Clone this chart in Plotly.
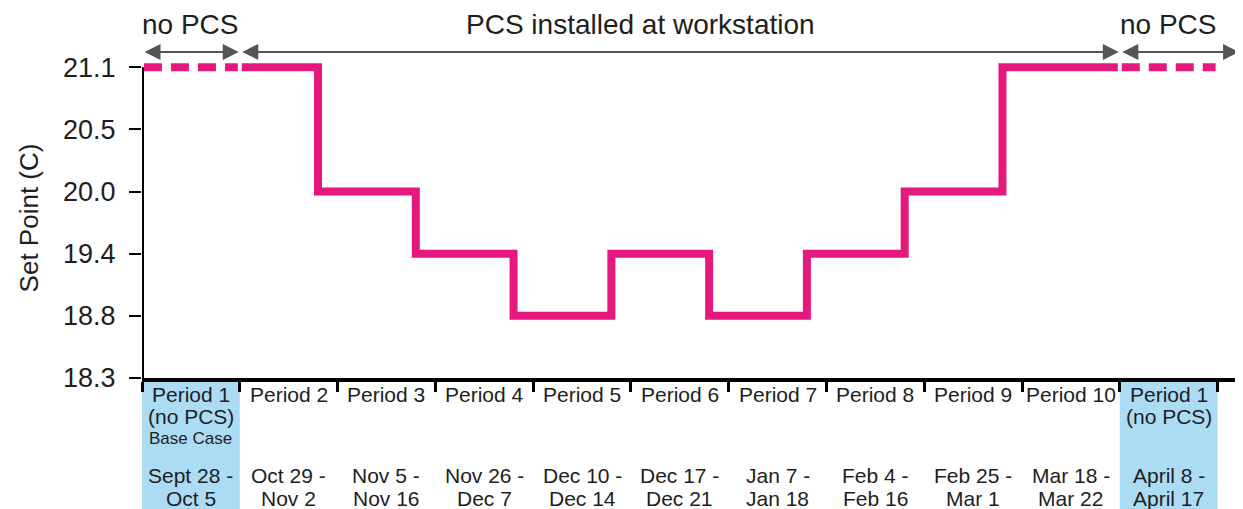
import plotly.graph_objects as go

# set point levels shown on the y axis (evenly spaced categories)
Y_LEVELS = ["18.3", "18.8", "19.4", "20.0", "20.5", "21.1"]

PERIODS = ["Period 1", "Period 2", "Period 3", "Period 4", "Period 5", "Period 6",
           "Period 7", "Period 8", "Period 9", "Period 10", "Period 1"]
NOTES = ["(no PCS)", "", "", "", "", "", "", "", "", "", "(no PCS)"]
EXTRA = ["Base Case", "", "", "", "", "", "", "", "", "", ""]
DATE_START = ["Sept 28 -", "Oct 29 -", "Nov 5 -", "Nov 26 -", "Dec 10 -", "Dec 17 -",
              "Jan 7 -", "Feb 4 -", "Feb 25 -", "Mar 18 -", "April 8 -"]
DATE_END = ["Oct 5", "Nov 2", "Nov 16", "Dec 7", "Dec 14", "Dec 21",
            "Jan 18", "Feb 16", "Mar 1", "Mar 22", "April 17"]
SET_POINT = [21.1, 21.1, 20.0, 19.4, 18.8, 19.4, 18.8, 19.4, 20.0, 21.1, 21.1]
PCS_ON = [False, True, True, True, True, True, True, True, True, True, False]

PHASES = ["no PCS", "PCS installed at workstation", "no PCS"]

PINK = "#e5197d"
BLUE = "#abdcf4"
INK = "#1e1e1e"
FONT = "Liberation Sans, Arial, sans-serif"
INSET = 0.02     # gap between segments at period boundaries
LEAD = 0.2       # steps drawn slightly before each boundary
X_MAX = 11.26

fig = go.Figure()

# solid step line for the PCS periods
on = [i for i, f in enumerate(PCS_ON) if f]
xs = [on[0] + INSET] + [i - LEAD for i in on[1:]] + [on[-1] + 1 - INSET]
ys = [f"{SET_POINT[i]:.1f}" for i in on] + [f"{SET_POINT[on[-1]]:.1f}"]
fig.add_trace(go.Scatter(x=xs, y=ys, mode="lines", line=dict(color=PINK, width=8, shape="hv"),
                         hoverinfo="skip", showlegend=False))

# dashed segments for the no-PCS periods
for i, f in enumerate(PCS_ON):
    if not f:
        v = f"{SET_POINT[i]:.1f}"
        fig.add_trace(go.Scatter(x=[i + INSET, i + 1 - INSET], y=[v, v], mode="lines",
                                 line=dict(color=PINK, width=8, dash="18px,9px"),
                                 hoverinfo="skip", showlegend=False))

shapes = []
# blue background under the baseline periods
for i, f in enumerate(PCS_ON):
    if not f:
        shapes.append(dict(type="rect", xref="x", yref="paper", x0=i, x1=i + 1, y0=-0.005, y1=-0.46,
                           fillcolor=BLUE, line_width=0, layer="below"))
# y spine up to the top level
shapes.append(dict(type="line", xref="x", yref="y", x0=0, x1=0, y0=0, y1=len(Y_LEVELS) - 1,
                   line=dict(color="black", width=4)))

annotations = []
rows = [(PERIODS, 16, 21), (NOTES, 38, 21), (EXTRA, 60, 17), (DATE_START, 97, 21), (DATE_END, 120, 21)]
for labels, off, size in rows:
    for i, t in enumerate(labels):
        if t:
            annotations.append(dict(x=i + 0.5, y=0, xref="x", yref="paper", yanchor="middle",
                                    yshift=-off, text=t, showarrow=False,
                                    font=dict(size=size, color=INK, family=FONT)))

# phase arrows across the top
bounds = [(0, 1), (1, 10), (10, X_MAX - 0.03)]
text_x = [0.5, 5.1, 10.5]
for (a, b), label, tx in zip(bounds, PHASES, text_x):
    annotations.append(dict(x=b, y=1.019, xref="x", yref="paper", ax=a, ay=0, axref="x", ayref="pixel",
                            text="", showarrow=True, arrowhead=2, arrowside="end+start",
                            arrowsize=1.6, arrowwidth=2, arrowcolor="#555555",
                            standoff=1, startstandoff=1))
    annotations.append(dict(x=tx, y=1.104, xref="x", yref="paper", yanchor="middle", text=label,
                            showarrow=False, font=dict(size=28, color=INK, family=FONT)))

# the page body adds an 8px offset, so margins are trimmed on the top/left
fig.update_layout(
    width=1243,
    height=509,
    margin=dict(l=134, r=8, t=50, b=139),
    plot_bgcolor="white",
    paper_bgcolor="white",
    font=dict(family=FONT, color=INK),
    shapes=shapes,
    annotations=annotations,
    xaxis=dict(range=[0, X_MAX], tickvals=list(range(len(PERIODS) + 1)), showticklabels=False,
               ticks="outside", ticklen=10, tickwidth=3, tickcolor="black", automargin=False,
               showline=True, linewidth=4, linecolor="black", showgrid=False, zeroline=False),
    yaxis=dict(type="category", categoryorder="array", categoryarray=Y_LEVELS, automargin=False,
               range=[0, len(Y_LEVELS) - 1 + 0.15], ticks="outside", ticklen=12, tickwidth=2,
               tickcolor="black", showline=False, showgrid=False, zeroline=False,
               tickfont=dict(size=27, color=INK), ticklabelstandoff=8,
               title=dict(text="Set Point (C)", font=dict(size=26, color=INK), standoff=16)),
)

fig.write_html("out.html")
